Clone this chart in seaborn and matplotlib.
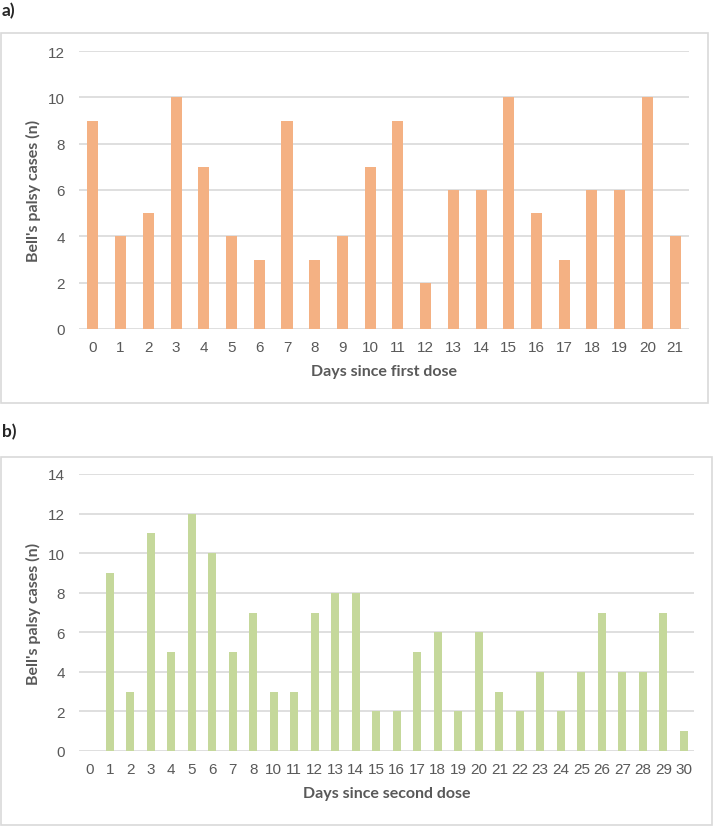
import matplotlib
matplotlib.use("Agg")
import matplotlib.pyplot as plt
import seaborn as sns
from matplotlib.patches import Rectangle

# -------------------------------
# Data
# -------------------------------
days_first = [str(d) for d in range(0, 22)]
cases_first = [9, 4, 5, 10, 7, 4, 3, 9, 3, 4, 7, 9, 2, 6, 6, 10, 5, 3, 6, 6, 10, 4]

# day 9 is not shown on the second-dose axis
days_second = ["0", "1", "2", "3", "4", "5", "6", "7", "8", "10", "11", "12", "13",
               "14", "15", "16", "17", "18", "19", "20", "21", "22", "23", "24",
               "25", "26", "27", "28", "29", "30"]
cases_second = [0, 9, 3, 11, 5, 12, 10, 5, 7, 3, 3, 7, 8, 8, 2, 2, 5, 6, 2, 6,
                3, 2, 4, 2, 4, 7, 4, 4, 7, 1]

orange = "#F4B183"
green = "#C5D89B"
grid_col = "#D9D9D9"
text_col = "#595959"

sns.set_style("white")
plt.rcParams["font.family"] = ["Liberation Sans", "DejaVu Sans"]

W, H = 714, 828
fig = plt.figure(figsize=(W / 100, H / 100), dpi=100)

# panel frames
fig.patches.append(Rectangle((1 / W, 1 - 404 / H), 707 / W, 370 / H, transform=fig.transFigure,
                             fill=False, edgecolor=grid_col, linewidth=1.2))
fig.patches.append(Rectangle((1 / W, 1 - 826 / H), 711 / W, 368 / H, transform=fig.transFigure,
                             fill=False, edgecolor=grid_col, linewidth=1.2))

fig.text(2 / W, 1 - 11 / H, "a)", fontsize=12.5, fontweight="bold", family=["Lato", "DejaVu Sans"],
         va="center", ha="left")
fig.text(2 / W, 1 - 432 / H, "b)", fontsize=12.5, fontweight="bold", family=["Lato", "DejaVu Sans"],
         va="center", ha="left")


def style_axis(ax, ymax, xlabel):
    ax.set_ylim(0, ymax)
    ax.set_yticks(range(0, ymax + 1, 2))
    ax.yaxis.grid(True, color=grid_col, linewidth=1.2)
    ax.set_axisbelow(True)
    for s in ax.spines.values():
        s.set_visible(False)
    ax.tick_params(axis="both", length=0, labelsize=11, labelcolor=text_col)
    ax.tick_params(axis="y", pad=10)
    ax.tick_params(axis="x", pad=8)
    ax.set_xlabel(xlabel, fontsize=11.5, fontweight="bold", color=text_col,
                  family=["Lato", "DejaVu Sans"], labelpad=7)
    ax.set_ylabel("Bell's palsy cases (n)", fontsize=11.5, fontweight="bold", color=text_col,
                  family=["Lato", "DejaVu Sans"], labelpad=5)


# -------------------------------
# a) first dose
# -------------------------------
ax1 = fig.add_axes([79 / W, 1 - 330 / H, 610 / W, 278 / H])
sns.barplot(x=days_first, y=cases_first, order=days_first, color=orange,
            saturation=1, width=0.4, linewidth=0, ax=ax1)
style_axis(ax1, 12, "Days since first dose")

# -------------------------------
# b) second dose
# -------------------------------
ax2 = fig.add_axes([79 / W, 1 - 752 / H, 615 / W, 277 / H])
sns.barplot(x=days_second, y=cases_second, order=days_second, color=green,
            saturation=1, width=0.4, linewidth=0, ax=ax2)
style_axis(ax2, 14, "Days since second dose")

fig.savefig("out.png", dpi=100)
